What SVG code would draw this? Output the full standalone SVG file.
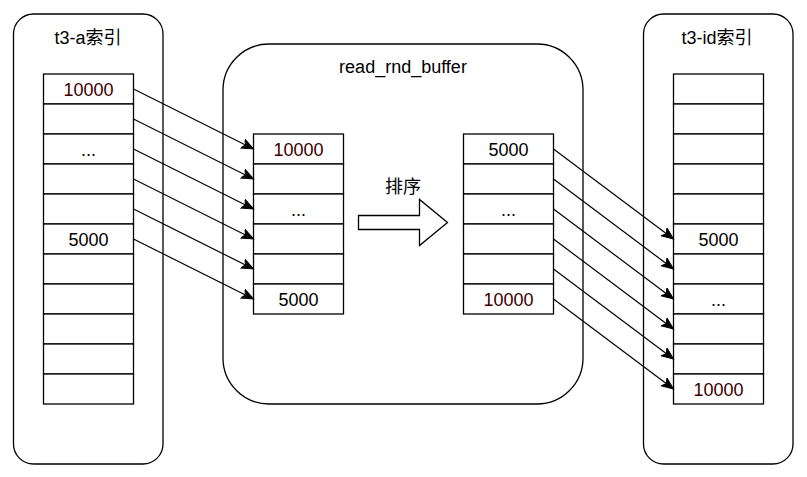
<svg xmlns="http://www.w3.org/2000/svg" width="807" height="477" viewBox="0 0 807 477">
<style>
.box{fill:#fff;stroke:#000;stroke-width:1.3}
.cell{fill:#fff;stroke:#000;stroke-width:1.3}
.t{font-family:"Liberation Sans",Arial,"Noto Sans CJK SC",sans-serif;font-size:18px;fill:#000;text-anchor:middle}
.r{fill:#3a0000}
.c{stroke:#000;stroke-width:1.2;fill:none;marker-end:url(#ah)}
</style>
<defs>
<marker id="ah" markerUnits="userSpaceOnUse" markerWidth="14" markerHeight="12" refX="12" refY="5" orient="auto">
<path d="M0,0 L12,5 L0,10 L3,5 Z" fill="#000" stroke="#000" stroke-width="1"/>
</marker>
</defs>
<rect width="807" height="477" fill="#fff"/>

<g id="t3-a-index">
<rect class="box" x="13.5" y="14" width="149.5" height="450" rx="20" ry="20"/>
<text class="t" x="88" y="44">t3-a索引</text>
<g id="t3-a-cells">
<rect class="cell" x="43.5" y="74" width="90" height="30"/>
<rect class="cell" x="43.5" y="104" width="90" height="30"/>
<rect class="cell" x="43.5" y="134" width="90" height="30"/>
<rect class="cell" x="43.5" y="164" width="90" height="30"/>
<rect class="cell" x="43.5" y="194" width="90" height="30"/>
<rect class="cell" x="43.5" y="224" width="90" height="30"/>
<rect class="cell" x="43.5" y="254" width="90" height="30"/>
<rect class="cell" x="43.5" y="284" width="90" height="30"/>
<rect class="cell" x="43.5" y="314" width="90" height="30"/>
<rect class="cell" x="43.5" y="344" width="90" height="30"/>
<rect class="cell" x="43.5" y="374" width="90" height="30"/>
<text class="t r" x="88.5" y="95.5">10000</text>
<text class="t" x="88.5" y="155.5">...</text>
<text class="t" x="88.5" y="245.5">5000</text>
</g>
</g>

<g id="read_rnd_buffer">
<rect class="box" x="223" y="44" width="360" height="360" rx="46" ry="46"/>
<text class="t" x="403" y="73">read_rnd_buffer</text>
<g id="buffer-unsorted">
<rect class="cell" x="253.5" y="134" width="90" height="30"/>
<rect class="cell" x="253.5" y="164" width="90" height="30"/>
<rect class="cell" x="253.5" y="194" width="90" height="30"/>
<rect class="cell" x="253.5" y="224" width="90" height="30"/>
<rect class="cell" x="253.5" y="254" width="90" height="30"/>
<rect class="cell" x="253.5" y="284" width="90" height="30"/>
<text class="t r" x="298.5" y="155.5">10000</text>
<text class="t" x="298.5" y="215.5">...</text>
<text class="t" x="298.5" y="305.5">5000</text>
</g>
<g id="sort-arrow">
<path d="M358.5,215.5 L419.5,215.5 L419.5,199.5 L447.5,222.5 L419.5,245.5 L419.5,229.5 L358.5,229.5 Z" fill="#fff" stroke="#000" stroke-width="1.3"/>
<text class="t" x="403" y="193">排序</text>
</g>
<g id="buffer-sorted">
<rect class="cell" x="463.5" y="134" width="90" height="30"/>
<rect class="cell" x="463.5" y="164" width="90" height="30"/>
<rect class="cell" x="463.5" y="194" width="90" height="30"/>
<rect class="cell" x="463.5" y="224" width="90" height="30"/>
<rect class="cell" x="463.5" y="254" width="90" height="30"/>
<rect class="cell" x="463.5" y="284" width="90" height="30"/>
<text class="t" x="508.5" y="155.5">5000</text>
<text class="t" x="508.5" y="215.5">...</text>
<text class="t r" x="508.5" y="305.5">10000</text>
</g>
</g>

<g id="t3-id-index">
<rect class="box" x="643.5" y="14" width="149.5" height="450" rx="20" ry="20"/>
<text class="t" x="717" y="44">t3-id索引</text>
<g id="t3-id-cells">
<rect class="cell" x="673.5" y="74" width="90" height="30"/>
<rect class="cell" x="673.5" y="104" width="90" height="30"/>
<rect class="cell" x="673.5" y="134" width="90" height="30"/>
<rect class="cell" x="673.5" y="164" width="90" height="30"/>
<rect class="cell" x="673.5" y="194" width="90" height="30"/>
<rect class="cell" x="673.5" y="224" width="90" height="30"/>
<rect class="cell" x="673.5" y="254" width="90" height="30"/>
<rect class="cell" x="673.5" y="284" width="90" height="30"/>
<rect class="cell" x="673.5" y="314" width="90" height="30"/>
<rect class="cell" x="673.5" y="344" width="90" height="30"/>
<rect class="cell" x="673.5" y="374" width="90" height="30"/>
<text class="t" x="718.5" y="245.5">5000</text>
<text class="t" x="718.5" y="305.5">...</text>
<text class="t r" x="718.5" y="395.5">10000</text>
</g>
</g>

<g id="connectors">
<line class="c" x1="133.5" y1="89" x2="253.5" y2="149"/>
<line class="c" x1="133.5" y1="119" x2="253.5" y2="179"/>
<line class="c" x1="133.5" y1="149" x2="253.5" y2="209"/>
<line class="c" x1="133.5" y1="179" x2="253.5" y2="239"/>
<line class="c" x1="133.5" y1="209" x2="253.5" y2="269"/>
<line class="c" x1="133.5" y1="239" x2="253.5" y2="299"/>
<line class="c" x1="553.5" y1="149" x2="673.5" y2="239"/>
<line class="c" x1="553.5" y1="179" x2="673.5" y2="269"/>
<line class="c" x1="553.5" y1="209" x2="673.5" y2="299"/>
<line class="c" x1="553.5" y1="239" x2="673.5" y2="329"/>
<line class="c" x1="553.5" y1="269" x2="673.5" y2="359"/>
<line class="c" x1="553.5" y1="299" x2="673.5" y2="389"/>
</g>
</svg>
